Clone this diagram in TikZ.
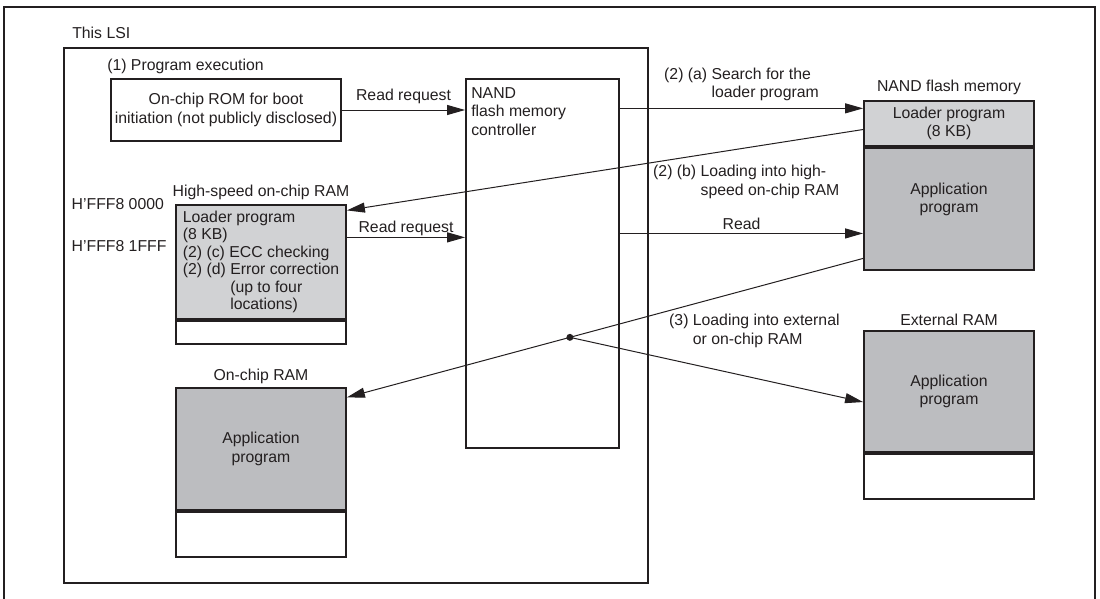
\documentclass[tikz,border=0pt]{standalone}
\usepackage{fontspec}
\setmainfont{Liberation Sans}
\usetikzlibrary{positioning, arrows.meta}

\definecolor{linec}{HTML}{231F20}
\definecolor{ldrgray}{HTML}{D1D2D4}
\definecolor{appgray}{HTML}{BCBDC0}

\begin{document}
\begin{tikzpicture}[
    x=1pt, y=-1pt,
    font=\fontsize{15.8}{18.5}\selectfont,
    text=linec,
    box/.style={draw=linec, line width=1.8pt, inner sep=2pt, align=center},
    ldr_part/.style={box, fill=ldrgray, minimum width=170pt},
    app_part/.style={box, fill=appgray, minimum width=170pt},
    free_part/.style={box, fill=white, minimum width=170pt},
    lbl/.style={inner sep=1pt, align=left},
    arrow/.style={-{Triangle[length=18pt, width=10pt]}, line width=1pt, draw=linec},
    link/.style={line width=1pt, draw=linec}
]
\useasboundingbox (0,0) rectangle (1100,598);

% Frame of the figure
\draw[linec, line width=1.8pt] (4,600) -- (4,7) -- (1095,7) -- (1095,600);

% The chip
\node[box, minimum width=584pt, minimum height=535pt] (lsi) at (356,315.5) {};
\node[lbl, above right=7pt and 8pt of lsi.north west] (lsititle) {This LSI};

\node[box, minimum width=230pt, minimum height=62pt] (rom) at (226,110)
    {On-chip ROM for boot\\initiation (not publicly disclosed)};
\node[lbl, above right=3pt and -4pt of rom.north west] (romtitle) {(1) Program execution};

\node[box, minimum width=153pt, minimum height=369pt] (nandctl) at (542.5,263.5) {};
\node[lbl, below right=8pt and 5pt of nandctl.north west] (nandctltext) {NAND\\flash memory\\controller};

% High-speed on-chip RAM
\node[ldr_part, minimum height=114pt, font=\fontsize{15.8}{17.4}\selectfont, align=left] (hsram) at (261,262)
    {Loader program\\(8 KB)\\(2) (c) ECC checking\\(2) (d) Error correction\\\phantom{(2) (d) }(up to four\\\phantom{(2) (d) }locations)};
\node[free_part, minimum height=23pt, below=0pt of hsram] (hsramfree) {};
\node[lbl, above=3pt of hsram] (hsramtitle) {High-speed on-chip RAM};
\node[lbl, left=10pt of hsram.north west] (addrtop) {H'FFF8 0000};
\node[lbl, below=42pt of addrtop.west, anchor=west] (addrend) {H'FFF8 1FFF};

% On-chip RAM
\node[app_part, minimum height=122pt] (ocram) at (261,449) {Application\\program};
\node[free_part, minimum height=45pt, below=0pt of ocram] (ocramfree) {};
\node[lbl, above=2pt of ocram] (ocramtitle) {On-chip RAM};

% NAND flash memory
\node[ldr_part, minimum height=45pt] (nandldr) at (949,123.5) {Loader program\\(8 KB)};
\node[app_part, minimum height=122pt, below=0pt of nandldr] (nandapp) {Application\\program\\[4pt]};
\node[lbl, above=4pt of nandldr] (nandtitle) {NAND flash memory};

% External RAM
\node[app_part, minimum height=121pt] (extapp) at (949,391.5) {Application\\program};
\node[free_part, minimum height=45pt, below=0pt of extapp] (extfree) {};
\node[lbl, above=3pt of extapp] (exttitle) {External RAM};

% Requests and transfers
\draw[arrow] (rom) -- (rom -| nandctl.west) node[midway, above=5pt, lbl] {Read request};
\draw[arrow] (hsram.16) -- (hsram.16 -| nandctl.west) node[midway, above=0pt, lbl] {Read request};
\draw[arrow] (nandldr.170 -| nandctl.east) -- (nandldr.170)
    node[midway, above=6pt, lbl] {(2) (a) Search for the\\\phantom{(2) (a) }loader program};
\draw[arrow] (nandapp.196 -| nandctl.east) -- (nandapp.196) node[midway, above=2pt, lbl] {Read};
\draw[arrow] (nandldr.184) -- (hsram.31);
\node[lbl, anchor=west] (loadlbl) at (652,182) {(2) (b) Loading into high-\\\phantom{(2) (b) }speed on-chip RAM};

\draw[arrow] (nandapp.210) -- coordinate[pos=0.568] (fork) (ocram.31);
\fill[linec] (fork) circle (3.5pt);
\draw[arrow] (fork) -- (extapp.187);
\node[lbl, anchor=west] (copylbl) at (668,331) {(3) Loading into external\\\phantom{(3) }or on-chip RAM};

\end{tikzpicture}
\end{document}
